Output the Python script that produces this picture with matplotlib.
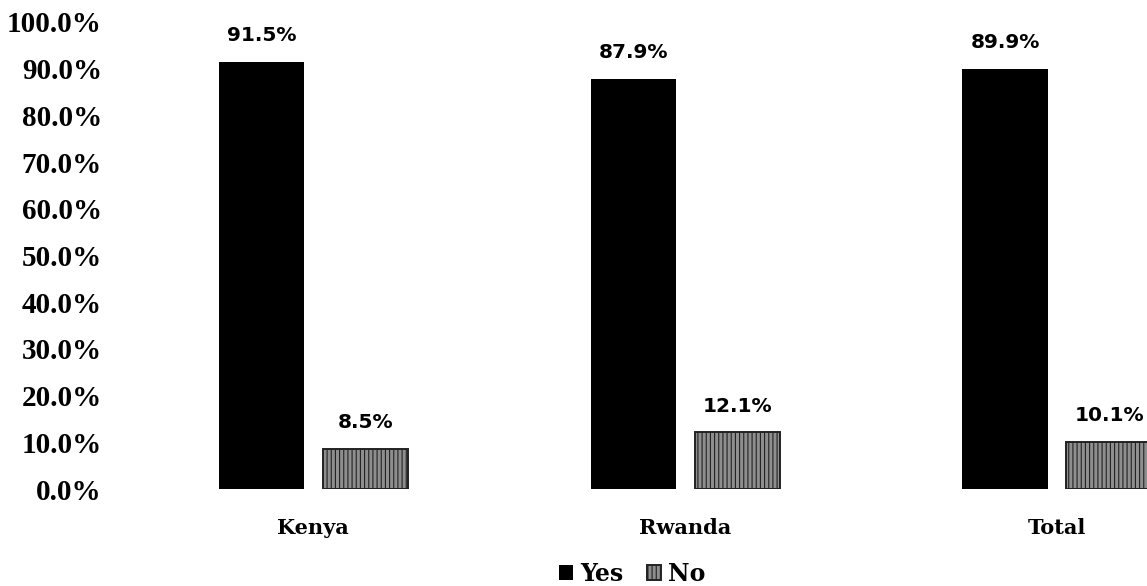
"""Yes/No shares by country, grouped bar chart."""

import numpy as np
import matplotlib
matplotlib.use("Agg")
import matplotlib.pyplot as plt

# ---- data ----
countries = ["Kenya", "Rwanda", "Total"]
yes_pct = [91.5, 87.9, 89.9]
no_pct = [8.5, 12.1, 10.1]
series_names = ["Yes", "No"]
y_ticks = [0, 10, 20, 30, 40, 50, 60, 70, 80, 90, 100]

W, H = 1147, 586
fig = plt.figure(figsize=(W / 100, H / 100), dpi=100)
ax = fig.add_axes([120 / W, (H - 489) / H, (W - 120) / W, (489 - 22) / H])

x = np.arange(len(countries))
width = 0.229
off = 0.14

bars_yes = ax.bar(x - off, yes_pct, width, color="black", label=series_names[0])
plt.rcParams["hatch.linewidth"] = 0.8
bars_no = ax.bar(x + off, no_pct, width, facecolor="#8e8e8e", edgecolor="#222222",
                 hatch="||||", linewidth=1.4, label=series_names[1])

# value labels above bars
for bars, vals in ((bars_yes, yes_pct), (bars_no, no_pct)):
    for b, v in zip(bars, vals):
        ax.annotate(f"{v:.1f}%", (b.get_x() + b.get_width() / 2, v),
                    xytext=(0, 19), textcoords="offset points",
                    ha="center", va="center", fontsize=14.5, fontweight="bold",
                    family="DejaVu Sans")

ax.set_xlim(-0.52, 2.242)
ax.set_ylim(0, 100)
ax.set_yticks(y_ticks)
ax.set_yticklabels([f"{t:.1f}%" for t in y_ticks], family="Liberation Serif",
                   fontweight="bold", fontsize=21)
ax.set_xticks(x)
ax.set_xticklabels(countries, family="DejaVu Serif", fontweight="bold", fontsize=15)
ax.tick_params(axis="y", length=0, pad=13)
ax.tick_params(axis="x", length=0, pad=21)
for s in ax.spines.values():
    s.set_visible(False)

fig.legend(loc="lower center", bbox_to_anchor=(0.551, -0.036), ncol=2, frameon=False,
           handlelength=0.6, handleheight=0.6, handletextpad=0.3, columnspacing=1.0,
           prop={"family": "DejaVu Serif", "weight": "bold", "size": 17})

fig.savefig("out.png", dpi=100)
